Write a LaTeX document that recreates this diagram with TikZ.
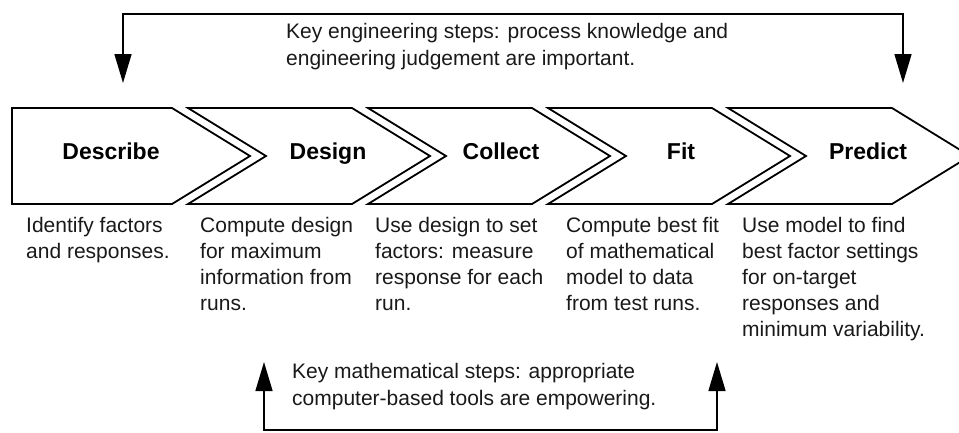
\documentclass[tikz,border=0pt]{standalone}
\usepackage{fontspec}
\setmainfont{Liberation Sans}
\usetikzlibrary{arrows.meta}

\begin{document}
\begin{tikzpicture}[x=1pt, y=-1pt,
    chev/.style={draw, line width=1.8pt, line join=miter},
    head/.style={font=\bfseries\fontsize{23}{28}\selectfont, anchor=base, inner sep=0pt},
    desc/.style={font=\fontsize{21}{26}\selectfont, align=left, anchor=north west, inner sep=0pt, text=black!90},
    note/.style={desc, font=\fontsize{21}{27}\selectfont},
    loop/.style={line width=1.5pt, {Triangle[length=29pt,width=17pt]}-{Triangle[length=29pt,width=17pt]}}]
  \useasboundingbox (0,0) rectangle (959,432);

  % the five process chevrons
  \draw[chev] (12,108) -- (172,108) -- (250,156) -- (172,204) -- (12,204) -- cycle;
  \foreach \x in {188,368,548,728}
    \draw[chev] (\x,108) -- ++(164,0) -- ++(78,48) -- ++(-78,48) -- ++(-164,0) -- ++(78,-48) -- cycle;

  \node[head] (describe) at (111,159) {Describe};
  \node[head] (design)   at (328,159) {Design};
  \node[head] (collect)  at (501,159) {Collect};
  \node[head] (fit)      at (681,159) {Fit};
  \node[head] (predict)  at (868,159) {Predict};

  % what happens in each step
  \node[desc] (describeTxt) at (26,217)  {Identify factors\\and responses.};
  \node[desc] (designTxt)   at (200,217) {Compute design\\for maximum\\information from\\runs.};
  \node[desc] (collectTxt)  at (375,217) {Use design to set\\factors: measure\\response for each\\run.};
  \node[desc] (fitTxt)      at (566,217) {Compute best fit\\of mathematical\\model to data\\from test runs.};
  \node[desc] (predictTxt)  at (742,217) {Use model to find\\best factor settings\\for on-target\\responses and\\minimum variability.};

  % engineering loop over the top
  \node[note] (engTxt) at (286,23) {Key engineering steps: process knowledge and\\engineering judgement are important.};
  \coordinate (engL) at (123,83);
  \coordinate (engR) at (903,83);
  \draw[loop] (engL) -- ++(0,-69) -| (engR);

  % mathematical loop underneath
  \node[note] (mathTxt) at (292,363) {Key mathematical steps: appropriate\\computer-based tools are empowering.};
  \coordinate (mathL) at (264,362);
  \coordinate (mathR) at (717,362);
  \draw[loop] (mathL) -- ++(0,68) -| (mathR);
\end{tikzpicture}
\end{document}
